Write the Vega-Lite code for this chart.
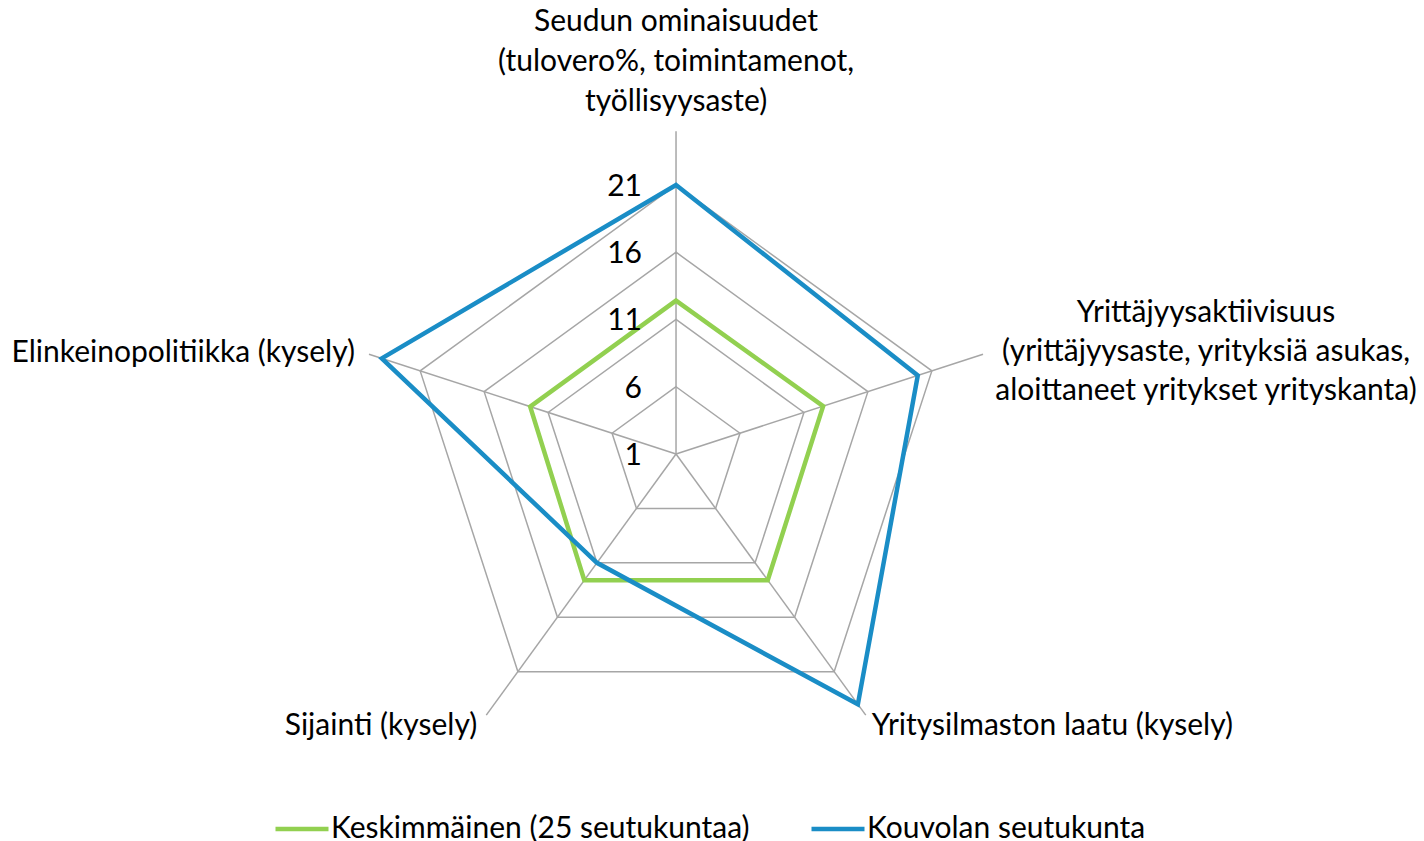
{
  "$schema": "https://vega.github.io/schema/vega-lite/v6.json",
  "width": 1424,
  "height": 841,
  "padding": 0,
  "autosize": {"type": "none"},
  "background": "white",
  "config": {"view": {"stroke": null}, "font": "Lato"},
  "datasets": {
    "axes": [
      {"k": 0, "cat": "Seudun ominaisuudet", "label": ["Seudun ominaisuudet", "(tulovero%, toimintamenot,", "työllisyysaste)"], "rings": [6, 11, 16, 21]},
      {"k": 1, "cat": "Yrittäjyysaktiivisuus", "label": ["Yrittäjyysaktiivisuus", "(yrittäjyysaste, yrityksiä asukas,", "aloittaneet yritykset yrityskanta)"], "rings": [6, 11, 16, 21]},
      {"k": 2, "cat": "Yritysilmaston laatu (kysely)", "label": ["Yritysilmaston laatu (kysely)"], "rings": [6, 11, 16, 21]},
      {"k": 3, "cat": "Sijainti (kysely)", "label": ["Sijainti (kysely)"], "rings": [6, 11, 16, 21]},
      {"k": 4, "cat": "Elinkeinopolitiikka (kysely)", "label": ["Elinkeinopolitiikka (kysely)"], "rings": [6, 11, 16, 21]}
    ],
    "scores": [
      {"series": "Keskimmäinen (25 seutukuntaa)", "k": 0, "value": 12.4},
      {"series": "Keskimmäinen (25 seutukuntaa)", "k": 1, "value": 12.5},
      {"series": "Keskimmäinen (25 seutukuntaa)", "k": 2, "value": 12.6},
      {"series": "Keskimmäinen (25 seutukuntaa)", "k": 3, "value": 12.6},
      {"series": "Keskimmäinen (25 seutukuntaa)", "k": 4, "value": 12.4},
      {"series": "Kouvolan seutukunta", "k": 0, "value": 21},
      {"series": "Kouvolan seutukunta", "k": 1, "value": 19.9},
      {"series": "Kouvolan seutukunta", "k": 2, "value": 24},
      {"series": "Kouvolan seutukunta", "k": 3, "value": 11},
      {"series": "Kouvolan seutukunta", "k": 4, "value": 24}
    ],
    "ticks": [{"t": 1}, {"t": 6}, {"t": 11}, {"t": 16}, {"t": 21}]
  },
  "encoding": {
    "x": {"field": "px", "type": "quantitative", "scale": {"domain": [-50.26, 55.61], "nice": false, "zero": false}, "axis": null},
    "y": {"field": "py", "type": "quantitative", "scale": {"domain": [-28.77, 33.75], "nice": false, "zero": false}, "axis": null}
  },
  "layer": [
    {
      "data": {"name": "axes"},
      "transform": [
        {"calculate": "(90 - 72*datum.k)*PI/180", "as": "a"},
        {"calculate": "0", "as": "px"},
        {"calculate": "0", "as": "py"},
        {"calculate": "24*cos(datum.a)", "as": "px2"},
        {"calculate": "24*sin(datum.a)", "as": "py2"}
      ],
      "mark": {"type": "rule", "color": "#a6a6a6", "strokeWidth": 1.5},
      "encoding": {"x2": {"field": "px2"}, "y2": {"field": "py2"}}
    },
    {
      "data": {"name": "axes"},
      "transform": [
        {"flatten": ["rings"]},
        {"calculate": "(90 - 72*datum.k)*PI/180", "as": "a"},
        {"calculate": "(datum.rings-1)*cos(datum.a)", "as": "px"},
        {"calculate": "(datum.rings-1)*sin(datum.a)", "as": "py"}
      ],
      "mark": {"type": "line", "color": "#a6a6a6", "strokeWidth": 1.5, "interpolate": "linear-closed"},
      "encoding": {"detail": {"field": "rings"}, "order": {"field": "k"}}
    },
    {
      "data": {"name": "scores"},
      "transform": [
        {"calculate": "(90 - 72*datum.k)*PI/180", "as": "a"},
        {"calculate": "(datum.value-1)*cos(datum.a)", "as": "px"},
        {"calculate": "(datum.value-1)*sin(datum.a)", "as": "py"}
      ],
      "mark": {"type": "line", "strokeWidth": 4.5, "interpolate": "linear-closed", "strokeJoin": "miter"},
      "encoding": {
        "order": {"field": "k"},
        "color": {
          "field": "series", "type": "nominal",
          "scale": {"domain": ["Keskimmäinen (25 seutukuntaa)", "Kouvolan seutukunta"], "range": ["#92d050", "#1a8dc6"]},
          "legend": {
            "orient": "none", "legendX": 273, "legendY": 800, "direction": "horizontal", "title": null,
            "symbolType": "stroke", "symbolSize": 2809, "symbolStrokeWidth": 4.5,
            "labelFont": "Lato", "labelFontSize": 30, "labelColor": "#000", "labelLimit": 0,
            "labelOffset": 0, "columnPadding": 52
          }
        }
      }
    },
    {
      "data": {"name": "ticks"},
      "transform": [
        {"calculate": "0", "as": "px"},
        {"calculate": "datum.t-1", "as": "py"}
      ],
      "mark": {"type": "text", "align": "right", "baseline": "middle", "dx": -34, "dy": 2, "fontSize": 30, "color": "#000"},
      "encoding": {"text": {"field": "t"}}
    },
    {
      "data": {"name": "axes"},
      "transform": [
        {"filter": "datum.k == 0"},
        {"calculate": "(90 - 72*datum.k)*PI/180", "as": "a"},
        {"calculate": "24*cos(datum.a)", "as": "px"},
        {"calculate": "24*sin(datum.a)", "as": "py"}
      ],
      "mark": {"type": "text", "align": "center", "baseline": "middle", "dy": -109, "fontSize": 30, "lineHeight": 40, "color": "#000"},
      "encoding": {"text": {"field": "label"}}
    },
    {
      "data": {"name": "axes"},
      "transform": [
        {"filter": "datum.k == 1"},
        {"calculate": "(90 - 72*datum.k)*PI/180", "as": "a"},
        {"calculate": "24*cos(datum.a)", "as": "px"},
        {"calculate": "24*sin(datum.a)", "as": "py"}
      ],
      "mark": {"type": "text", "align": "center", "baseline": "middle", "dx": 223, "dy": -41, "fontSize": 30, "lineHeight": 39, "color": "#000"},
      "encoding": {"text": {"field": "label"}}
    },
    {
      "data": {"name": "axes"},
      "transform": [
        {"filter": "datum.k == 2"},
        {"calculate": "(90 - 72*datum.k)*PI/180", "as": "a"},
        {"calculate": "24*cos(datum.a)", "as": "px"},
        {"calculate": "24*sin(datum.a)", "as": "py"}
      ],
      "mark": {"type": "text", "align": "left", "baseline": "middle", "dx": 6, "dy": 11, "fontSize": 30, "color": "#000"},
      "encoding": {"text": {"field": "label"}}
    },
    {
      "data": {"name": "axes"},
      "transform": [
        {"filter": "datum.k == 3"},
        {"calculate": "(90 - 72*datum.k)*PI/180", "as": "a"},
        {"calculate": "24*cos(datum.a)", "as": "px"},
        {"calculate": "24*sin(datum.a)", "as": "py"}
      ],
      "mark": {"type": "text", "align": "right", "baseline": "middle", "dx": -9, "dy": 11, "fontSize": 30, "color": "#000"},
      "encoding": {"text": {"field": "label"}}
    },
    {
      "data": {"name": "axes"},
      "transform": [
        {"filter": "datum.k == 4"},
        {"calculate": "(90 - 72*datum.k)*PI/180", "as": "a"},
        {"calculate": "24*cos(datum.a)", "as": "px"},
        {"calculate": "24*sin(datum.a)", "as": "py"}
      ],
      "mark": {"type": "text", "align": "right", "baseline": "middle", "dx": -14, "dy": -1, "fontSize": 30, "color": "#000"},
      "encoding": {"text": {"field": "label"}}
    }
  ]
}
